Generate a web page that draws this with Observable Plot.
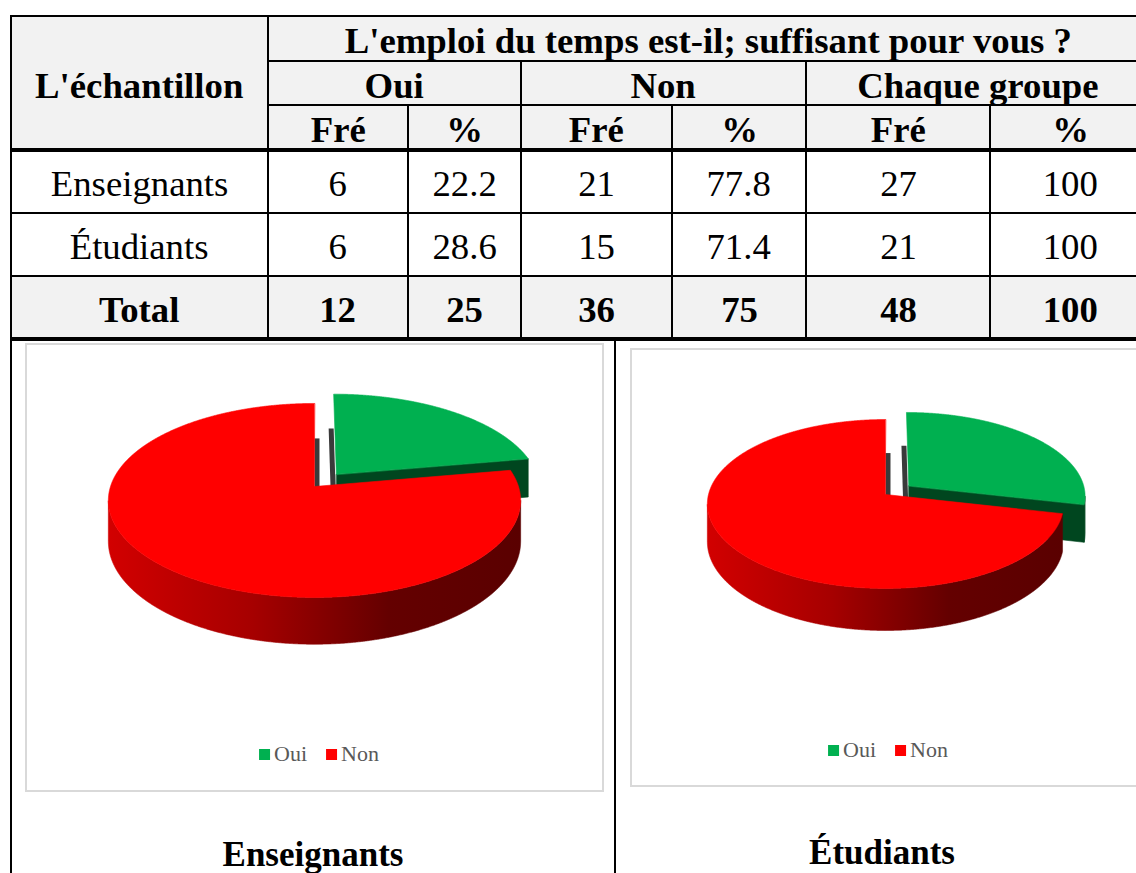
<!DOCTYPE html>
<html><head><meta charset="utf-8">
<script src="https://cdn.jsdelivr.net/npm/d3@7"></script>
<script src="https://cdn.jsdelivr.net/npm/@observablehq/plot@0.6"></script>
<style>
html,body{margin:0;padding:0;background:#fff;}
#page{position:relative;width:1136px;height:873px;overflow:hidden;font-family:"Liberation Serif","Times New Roman",serif;color:#000;}
.cell{position:absolute;display:flex;align-items:center;justify-content:center;box-sizing:border-box;padding-top:6px;font-size:35px;line-height:1;white-space:nowrap;}
.cell span{display:inline-block;transform:scaleX(1.05);}
.b{font-weight:bold;}
.ln{position:absolute;background:#000;}
.box{position:absolute;border:2px solid #d9d9d9;box-sizing:border-box;background:#fff;}
.legend{position:absolute;display:flex;align-items:center;font-size:22px;line-height:1;color:#595959;white-space:nowrap;font-family:"Liberation Serif",serif;}
.sw{display:inline-block;width:11px;height:11px;margin-right:4px;}
.caption{position:absolute;font-weight:bold;font-size:35px;line-height:1;white-space:nowrap;transform:translateX(-50%);}
.plotwrap{position:absolute;}
</style></head>
<body><div id="page"></div>
<script>
// ---------- data ----------
const question = "L'emploi du temps est-il; suffisant pour vous ?";
const sampleHeader = "L'échantillon";
const answerGroups = ["Oui", "Non", "Chaque groupe"];
const subHeaders = ["Fré", "%"];
const groups = ["Enseignants", "Étudiants"];
const ouiFreq = [6, 6];
const ouiPct = [22.2, 28.6];
const nonFreq = [21, 15];
const nonPct = [77.8, 71.4];
const groupFreq = [27, 21];
const groupPct = [100, 100];
const totalLabel = "Total";
const totalRow = [12, 25, 36, 75, 48, 100];
const pieCategories = ["Oui", "Non"];
const pieColors = ["#00b050", "#ff0000"];

// ---------- layout ----------
const page = document.getElementById("page");
const colX = [11, 267.5, 408, 521, 672, 806, 990, 1150];
const rowY = [16, 61, 105, 150, 213, 276, 339];
const gray = "#f2f2f2";

function cell(x0, x1, y0, y1, text, bold, bg) {
  const d = document.createElement("div");
  d.className = "cell" + (bold ? " b" : "");
  Object.assign(d.style, {left: x0 + "px", top: y0 + "px", width: (x1 - x0) + "px", height: (y1 - y0) + "px", background: bg || "transparent"});
  const s = document.createElement("span");
  s.textContent = text;
  d.appendChild(s);
  page.appendChild(d);
}
function line(x0, y0, x1, y1, t) {
  const d = document.createElement("div");
  d.className = "ln";
  if (y0 === y1) Object.assign(d.style, {left: x0 + "px", top: (y0 - t / 2) + "px", width: (x1 - x0) + "px", height: t + "px"});
  else Object.assign(d.style, {left: (x0 - t / 2) + "px", top: y0 + "px", width: t + "px", height: (y1 - y0) + "px"});
  page.appendChild(d);
}

// header
cell(colX[0], colX[1], rowY[0], rowY[3], sampleHeader, true, gray);
cell(colX[1], colX[7], rowY[0], rowY[1], question, true, gray);
answerGroups.forEach((g, i) => cell(colX[1 + 2 * i], colX[3 + 2 * i], rowY[1], rowY[2], g, true, gray));
for (let j = 0; j < 6; j++) cell(colX[1 + j], colX[2 + j], rowY[2], rowY[3], subHeaders[j % 2], true, gray);
// data rows
groups.forEach((g, r) => {
  const vals = [ouiFreq[r], ouiPct[r], nonFreq[r], nonPct[r], groupFreq[r], groupPct[r]];
  cell(colX[0], colX[1], rowY[3 + r], rowY[4 + r], g, false, "#fff");
  vals.forEach((v, j) => cell(colX[1 + j], colX[2 + j], rowY[3 + r], rowY[4 + r], String(v), false, "#fff"));
});
cell(colX[0], colX[1], rowY[5], rowY[6], totalLabel, true, gray);
totalRow.forEach((v, j) => cell(colX[1 + j], colX[2 + j], rowY[5], rowY[6], String(v), true, gray));

// lines
line(10, 16, 1150, 16, 2.5);
line(11, 15, 11, 873, 2);
line(267.5, 16, 267.5, 339, 2);
line(267.5, 61, 1150, 61, 1.5);
line(267.5, 105, 1150, 105, 1.5);
[408, 672, 990].forEach(x => line(x, 105, x, 339, 2));
[521, 806].forEach(x => line(x, 61, x, 339, 2));
line(10, 150, 1150, 150, 4);
line(10, 213, 1150, 213, 2);
line(10, 276, 1150, 276, 2);
line(10, 339, 1150, 339, 4);
line(615, 339, 615, 873, 2);

// ---------- pies ----------
const pieCfg = [
  {bx: 25, by: 343, bw: 579, bh: 449, cx: 289, cy: 143, w: 204, h: 95, k: 0.144, T: 40, e: 0.17, skew: 5,
   legendX: 319, legendTop: 743, capX: 313, capTop: 837},
  {bx: 630, by: 348, bw: 520, bh: 439, cx: 255, cy: 146, w: 177, h: 83.4, k: 0.1124, T: 37.3, e: 0.17, skew: 5,
   legendX: 888, legendTop: 739, capX: 882, capTop: 835}
];
const explode = [1, 0];

function renderPie(cfg, values, n) {
  const {bw, bh, cx, cy, w, h, k, T, e, skew} = cfg;
  const total = d3.sum(values);
  const proj = (X, Z, down, dx = 0) => {
    const d = 1 + k * Z;
    return {x: cx + (w * X) / d + dx, y: cy + (-h * Z + T * down) / d};
  };
  let acc = 0;
  const slices = values.map((v, i) => {
    const a0 = acc / total * 2 * Math.PI; acc += v;
    const a1 = acc / total * 2 * Math.PI;
    const mid = (a0 + a1) / 2, ex = explode[i] * e;
    return {i, a0, a1, mid, ox: ex * Math.sin(mid), oz: ex * Math.cos(mid)};
  });
  const camZ = -1 / k;
  const wallFill = ["#00461f", `url(#redwall${n})`];
  const faceDark = ["#00461f", "#5a0000"];
  const marks = [];
  const poly = (pts, fill, extra = {}) => Plot.line(pts, {x: "x", y: "y", curve: "linear-closed", fill, stroke: fill, strokeWidth: 0.6, ...extra});

  // soft shadow below the base
  const base = d3.range(0, 360, 2).map(deg => {
    const t = deg * Math.PI / 180, p = proj(Math.sin(t), Math.cos(t), 1, -2);
    return {x: p.x, y: p.y + 3};
  });
  marks.push(Plot.line(base, {x: "x", y: "y", curve: "linear-closed", fill: "#000", fillOpacity: 0.5, stroke: "none", ariaLabel: "pie-shadow"}));

  const order = slices.slice().sort((a, b) => (Math.cos(b.mid) + b.oz) - (Math.cos(a.mid) + a.oz));
  for (const s of order) {
    const pt = (th, down, dx = 0) => proj(Math.sin(th) + s.ox, Math.cos(th) + s.oz, down, dx);
    const Q = (down, dx = 0) => proj(s.ox, s.oz, down, dx);
    const N = Math.max(2, Math.ceil((s.a1 - s.a0) / (0.25 * Math.PI / 180)));
    const ths = d3.range(N + 1).map(j => s.a0 + (s.a1 - s.a0) * j / N);
    const facing = th => {
      const nx = Math.sin(th), nz = Math.cos(th);
      return (-(nx + s.ox)) * nx + (camZ - (nz + s.oz)) * nz > 0;
    };
    // outer walls (visible runs)
    let run = [];
    const runs = [];
    for (const th of ths) {
      if (facing(th)) run.push(th);
      else if (run.length) { runs.push(run); run = []; }
    }
    if (run.length) runs.push(run);
    for (const r of runs) {
      if (r.length < 2) continue;
      const pts = r.map(th => pt(th, 0)).concat(r.slice().reverse().map(th => pt(th, 1)));
      marks.push(poly(pts, wallFill[s.i]));
    }
    // radial faces
    const faces = [
      {th: s.a0, n: [-Math.cos(s.a0), Math.sin(s.a0)]},
      {th: s.a1, n: [Math.cos(s.a1), -Math.sin(s.a1)]}
    ];
    for (const f of faces) {
      const dot = (-s.ox) * f.n[0] + (camZ - s.oz) * f.n[1];
      if (dot > -1e-6) {
        if (Math.abs(dot) < 0.2) {
          // nearly edge-on face: thin dark sliver below the rim
          const dx = skew * Math.sign(f.n[0]);
          const pts = [pt(f.th, 1), pt(f.th, 1, dx), Q(1, dx), Q(1)];
          marks.push(Plot.line(pts, {x: "x", y: "y", curve: "linear-closed", fill: "#3a3a3a", stroke: "none"}));
        } else {
          const pts = [Q(0), pt(f.th, 0), pt(f.th, 1), Q(1)];
          marks.push(poly(pts, faceDark[s.i]));
        }
      }
    }
    // top face
    const top = [Q(0)].concat(ths.map(th => pt(th, 0)));
    marks.push(poly(top, pieColors[s.i]));
  }

  const svg = Plot.plot({
    width: bw, height: bh, margin: 0,
    x: {domain: [0, bw], range: [0, bw], axis: null},
    y: {domain: [0, bh], range: [0, bh], axis: null},
    style: {background: "transparent", overflow: "visible"},
    marks
  });
  const sel = d3.select(svg);
  const defs = sel.insert("defs", ":first-child");
  const g = defs.append("linearGradient").attr("id", `redwall${n}`).attr("x1", 0).attr("x2", 1).attr("y1", 0).attr("y2", 0);
  [[0, "#d20000"], [0.35, "#a60000"], [0.68, "#640000"], [1, "#5a0000"]].forEach(([o, c]) =>
    g.append("stop").attr("offset", o).attr("stop-color", c));
  const f = defs.append("filter").attr("id", `blur${n}`).attr("x", "-20%").attr("y", "-20%").attr("width", "140%").attr("height", "140%");
  f.append("feGaussianBlur").attr("stdDeviation", 3);
  sel.select('g[aria-label="pie-shadow"]').attr("filter", `url(#blur${n})`);
  return svg;
}

pieCfg.forEach((cfg, n) => {
  const box = document.createElement("div");
  box.className = "box";
  Object.assign(box.style, {left: cfg.bx + "px", top: cfg.by + "px", width: cfg.bw + "px", height: cfg.bh + "px"});
  page.appendChild(box);
  const wrap = document.createElement("div");
  wrap.className = "plotwrap";
  Object.assign(wrap.style, {left: cfg.bx + "px", top: cfg.by + "px", width: cfg.bw + "px", height: cfg.bh + "px"});
  wrap.appendChild(renderPie(cfg, [ouiPct[n], nonPct[n]], n));
  page.appendChild(wrap);
  // legend
  const lg = document.createElement("div");
  lg.className = "legend";
  Object.assign(lg.style, {left: cfg.legendX + "px", top: cfg.legendTop + "px", transform: "translateX(-50%)"});
  pieCategories.forEach((c, i) => {
    const sw = document.createElement("span");
    sw.className = "sw";
    sw.style.background = pieColors[i];
    if (i > 0) sw.style.marginLeft = "19px";
    lg.appendChild(sw);
    lg.appendChild(document.createTextNode(c));
  });
  page.appendChild(lg);
  // caption
  const cap = document.createElement("div");
  cap.className = "caption";
  cap.textContent = groups[n];
  Object.assign(cap.style, {left: cfg.capX + "px", top: cfg.capTop + "px"});
  page.appendChild(cap);
});
</script>
</body></html>
